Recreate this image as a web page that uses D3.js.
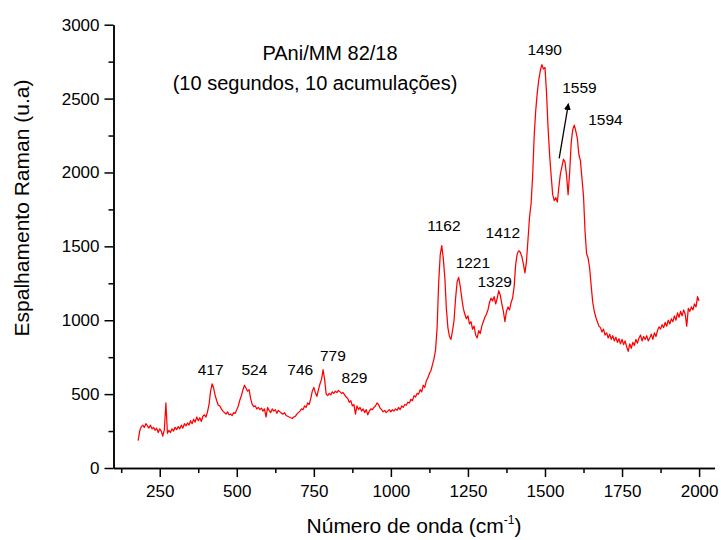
<!DOCTYPE html>
<html>
<head>
<meta charset="utf-8">
<script src="https://cdn.jsdelivr.net/npm/d3@7"></script>
<style>
  html, body { margin: 0; padding: 0; background: #fff; }
  svg { display: block; font-family: "Liberation Sans", Arial, sans-serif; }
</style>
</head>
<body>
<svg id="chart" width="721" height="540"></svg>
<script>
// ---- data ----
const titleLines = ["PAni/MM 82/18", "(10 segundos, 10 acumulações)"];
const xTicks = [250, 500, 750, 1000, 1250, 1500, 1750, 2000];
const xMinorTicks = [125, 375, 625, 875, 1125, 1375, 1625, 1875];
const yTicks = [0, 500, 1000, 1500, 2000, 2500, 3000];
const yMinorTicks = [250, 750, 1250, 1750, 2250, 2750];

// wavenumber grid: 180 .. 2000 cm-1, step 5
const wavenumbers = d3.range(180, 2001, 5);
// Raman intensity (u.a.), one value per grid point
const intensity = [
  // 180-275
  185, 250, 280, 290, 275, 300, 285, 270, 290, 265, 275, 255, 270, 240, 265, 250, 215, 260, 440, 235,
  // 280-375
  255, 240, 265, 250, 275, 260, 280, 265, 290, 270, 300, 285, 305, 290, 320, 300, 330, 310, 345, 320,
  // 380-475
  340, 315, 350, 360, 345, 380, 430, 520, 570, 540, 490, 455, 425, 420, 400, 385, 375, 365, 380, 360,
  // 480-575
  365, 355, 375, 370, 395, 420, 460, 490, 530, 560, 540, 520, 530, 470, 430, 415, 420, 400, 410, 395,
  // 580-675
  405, 385, 400, 345, 410, 390, 375, 400, 385, 395, 370, 390, 380, 370, 365, 375, 355, 350, 345, 340,
  // 680-775
  335, 345, 350, 365, 375, 385, 400, 395, 420, 410, 440, 430, 470, 520, 545, 510, 485, 530, 570, 600,
  // 780-875
  665, 600, 500, 490, 505, 495, 515, 505, 520, 510, 525, 515, 505, 510, 495, 480, 470, 445, 455, 420,
  // 880-975
  430, 365, 420, 395, 410, 385, 400, 375, 395, 360, 385, 400, 395, 410, 420, 440, 430, 405, 395, 380,
  // 980-1075
  390, 375, 385, 395, 380, 395, 385, 400, 390, 410, 395, 420, 410, 430, 425, 445, 440, 465, 455, 490,
  // 1080-1175
  480, 505, 500, 530, 515, 560, 545, 590, 610, 640, 660, 700, 740, 800, 950, 1250, 1440, 1505, 1420, 1290,
  // 1180-1275
  1080, 950, 890, 870, 930, 1000, 1150, 1260, 1290, 1230, 1150, 1080, 1040, 1010, 1030, 975, 990, 940, 960, 900,
  // 1280-1375
  880, 930, 910, 960, 990, 1020, 1040, 1070, 1120, 1150, 1130, 1160, 1110, 1150, 1200, 1170, 1110, 1060, 990, 1060,
  // 1380-1475
  1090, 1070, 1120, 1150, 1230, 1380, 1450, 1470, 1460, 1430, 1380, 1320, 1400, 1550, 1700, 1790, 1980, 2250, 2420, 2540,
  // 1480-1575
  2630, 2690, 2730, 2700, 2710, 2540, 2300, 2120, 1980, 1850, 1810, 1830, 1800, 1900, 1990, 2040, 2090, 2070, 1980, 1850,
  // 1580-1675
  2000, 2200, 2290, 2320, 2280, 2230, 2120, 2080, 1960, 1840, 1600, 1450, 1420, 1350, 1230, 1120, 1060, 1020, 990, 960,
  // 1680-1775
  950, 920, 940, 900, 915, 880, 905, 870, 895, 860, 885, 850, 875, 840, 870, 835, 860, 820, 790, 840,
  // 1780-1875
  810, 850, 830, 870, 845, 880, 900, 860, 890, 870, 895, 860, 880, 905, 870, 915, 890, 930, 955, 940,
  // 1880-1975
  970, 950, 985, 960, 1000, 975, 1010, 990, 1030, 1000, 1050, 1020, 1060, 1030, 1070, 1040, 960, 1080, 1060, 1090,
  // 1980-2000
  1070, 1110, 1090, 1160, 1130
];

// peak annotations (labels and their anchor in data units)
const peakLabels = ["417", "524", "746", "779", "829", "1162", "1221", "1329", "1412", "1490", "1559", "1594"];
const peakLabelX = [415, 557, 706, 812, 882, 1172, 1266, 1337, 1363, 1499, 1612, 1696];
const peakLabelY = [629, 629, 629, 726, 577, 1606, 1355, 1227, 1554, 2795, 2540, 2321];
// arrow pointing to the 1559 shoulder: [start, end] in data units
const arrowFrom = [1546, 2095];
const arrowTo = [1576, 2465];

// ---- drawing ----
const svg = d3.select("#chart");
const x = d3.scaleLinear().domain([100, 2050]).range([113.5, 714.5]);
const y = d3.scaleLinear().domain([0, 3000]).range([468, 24.7]);

const defs = svg.append("defs");
defs.append("marker")
  .attr("id", "arrowhead")
  .attr("viewBox", "0 0 10 10")
  .attr("refX", 9).attr("refY", 5)
  .attr("markerWidth", 7).attr("markerHeight", 7)
  .attr("markerUnits", "userSpaceOnUse")
  .attr("orient", "auto")
  .append("path").attr("d", "M0,0 L10,5 L0,10 z").attr("fill", "#000");

// spectrum
const pts = wavenumbers.map((w, i) => [w, intensity[i]]);
svg.append("path")
  .datum(pts)
  .attr("fill", "none")
  .attr("stroke", "#ff0000")
  .attr("stroke-width", 1.25)
  .attr("stroke-linejoin", "round")
  .attr("d", d3.line().x(d => x(d[0])).y(d => y(d[1])));

// axes
function styleAxis(g) {
  g.selectAll("path.domain").attr("stroke", "#000").attr("stroke-width", 1.5);
  g.selectAll(".tick line").attr("stroke", "#000").attr("stroke-width", 1.5);
  g.selectAll(".tick text").attr("fill", "#000").style("font-size", "17px")
    .style("font-family", "'Liberation Sans', Arial, sans-serif");
}

svg.append("g")
  .attr("transform", `translate(0,${y(0)})`)
  .call(d3.axisBottom(x).tickValues(xMinorTicks).tickSize(5).tickSizeOuter(0).tickFormat(""))
  .call(styleAxis);
svg.append("g")
  .attr("transform", `translate(0,${y(0)})`)
  .call(d3.axisBottom(x).tickValues(xTicks).tickSize(9).tickSizeOuter(0).tickPadding(8).tickFormat(d3.format("d")))
  .call(styleAxis);

svg.append("g")
  .attr("transform", `translate(${x(100)},0)`)
  .call(d3.axisLeft(y).tickValues(yMinorTicks).tickSize(5).tickSizeOuter(0).tickFormat(""))
  .call(styleAxis);
svg.append("g")
  .attr("transform", `translate(${x(100)},0)`)
  .call(d3.axisLeft(y).tickValues(yTicks).tickSize(9).tickSizeOuter(0).tickPadding(5).tickFormat(d3.format("d")))
  .call(styleAxis);

// axis titles
const xt = svg.append("text")
  .attr("x", 414).attr("y", 533)
  .attr("text-anchor", "middle")
  .style("font-size", "21px").attr("fill", "#000");
xt.append("tspan").text("Número de onda (cm");
xt.append("tspan").attr("dy", -9).style("font-size", "12px").text("-1");
xt.append("tspan").attr("dy", 9).text(")");

svg.append("text")
  .attr("transform", "translate(29,208) rotate(-90)")
  .attr("text-anchor", "middle")
  .style("font-size", "21px").attr("fill", "#000")
  .text("Espalhamento Raman (u.a)");

// chart title
svg.append("text").attr("x", 330).attr("y", 60).attr("text-anchor", "middle")
  .style("font-size", "20px").attr("fill", "#000").text(titleLines[0]);
svg.append("text").attr("x", 315).attr("y", 90).attr("text-anchor", "middle")
  .style("font-size", "20px").attr("fill", "#000").text(titleLines[1]);

// peak labels
svg.append("g").selectAll("text")
  .data(peakLabels)
  .join("text")
  .attr("x", (d, i) => x(peakLabelX[i]))
  .attr("y", (d, i) => y(peakLabelY[i]))
  .attr("text-anchor", "middle")
  .style("font-size", "15.5px").attr("fill", "#000")
  .text(d => d);

// arrow
svg.append("line")
  .attr("x1", x(arrowFrom[0])).attr("y1", y(arrowFrom[1]))
  .attr("x2", x(arrowTo[0])).attr("y2", y(arrowTo[1]))
  .attr("stroke", "#000").attr("stroke-width", 1.3)
  .attr("marker-end", "url(#arrowhead)");
</script>
</body>
</html>
